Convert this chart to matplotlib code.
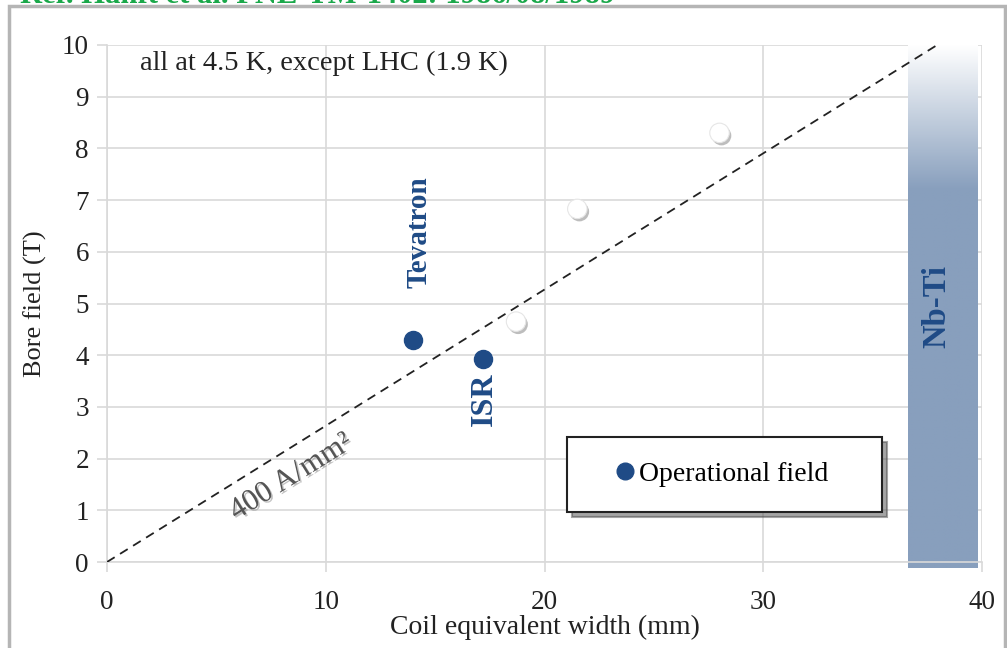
import numpy as np
import matplotlib
matplotlib.use("Agg")
from matplotlib import pyplot as plt
from matplotlib import patheffects as pe
from matplotlib.colors import LinearSegmentedColormap
from matplotlib.lines import Line2D
from matplotlib.patches import Rectangle

# operational field points (blue)
op_names = ["Tevatron", "ISR"]
op_width = [14.0, 17.2]
op_field = [4.3, 3.92]

# other magnets (white markers)
other_width = [18.7, 21.5, 28.0]
other_field = [4.65, 6.83, 8.3]

# 400 A/mm2 load line
load_width = [0, 40]
load_slope = 0.2635

# Nb-Ti band
nbti_x = [36.6, 39.8]
nbti_y = [-0.12, 10]
nbti_solid_below = 7.2

blue = "#1f4b86"
band_col = "#889fbd"
grid_col = "#d9d9d9"
txt_col = "#222222"

plt.rcParams['font.family'] = ['Liberation Serif', 'DejaVu Serif']

fig = plt.figure(figsize=(10.07, 6.48), dpi=100)
ax = fig.add_axes([107/1007, 1-562/648, (982-107)/1007, (562-45)/648])

# gradient band
ys = np.linspace(nbti_y[0], nbti_y[1], 300)
frac = np.clip((nbti_y[1] - ys) / (nbti_y[1] - nbti_solid_below), 0, 1)
cmap = LinearSegmentedColormap.from_list("nbti", ["#ffffff", band_col])
ax.imshow(frac[::-1, None], cmap=cmap, vmin=0, vmax=1, aspect="auto",
          extent=[nbti_x[0], nbti_x[1], nbti_y[0], nbti_y[1]], zorder=2,
          interpolation="bilinear", clip_on=False)

# load line
lx = np.array(load_width)
ax.plot(lx, lx * load_slope, ls=(0, (5, 3.5)), color="#222222", lw=1.3, zorder=3)

# points
shadow = [pe.SimplePatchShadow(offset=(1.5, -2), shadow_rgbFace="#888888", alpha=0.55), pe.Normal()]
ax.plot(other_width, other_field, ls="none", marker="o", ms=14, mfc="white",
        mec="#e6e6e6", mew=0.8, zorder=4, path_effects=shadow)
ax.plot(op_width, op_field, ls="none", marker="o", ms=13, color=blue, zorder=4)

# labels
ax.text(14.25, 6.38, "Tevatron", rotation=90, ha="center", va="center",
        color=blue, fontsize=21, fontweight="bold", zorder=5)
ax.text(17.25, 3.15, "ISR", rotation=90, ha="center", va="center",
        color=blue, fontsize=23, fontweight="bold", zorder=5)
ax.text(37.95, 4.95, "Nb-Ti", rotation=90, ha="center", va="center",
        color=blue, fontsize=23.5, fontweight="bold", zorder=5)
ax.text(8.4, 1.64, "400 A/mm²", rotation=32, ha="center", va="center",
        color="#555555", fontsize=22, zorder=5,
        path_effects=[pe.withSimplePatchShadow(offset=(1.2, -1.2), shadow_rgbFace="#999999", alpha=0.6)])
ax.text(1.5, 9.64, "all at 4.5 K, except LHC (1.9 K)", ha="left", va="center",
        color=txt_col, fontsize=20.5, zorder=5)

ax.set_xlim(0, 40)
ax.set_ylim(0, 10)
ax.set_xticks(range(0, 41, 10))
ax.set_yticks(range(0, 11))
ax.grid(True, color=grid_col, lw=1.2, zorder=0)
ax.set_axisbelow(True)
for s in ["top", "right"]:
    ax.spines[s].set_visible(False)
for s in ["left", "bottom"]:
    ax.spines[s].set_color(grid_col)
    ax.spines[s].set_linewidth(1.2)
ax.tick_params(axis="both", colors=grid_col, labelcolor=txt_col, labelsize=19.5,
               length=7, width=1.2)
ax.tick_params(axis="x", pad=13)
ax.tick_params(axis="y", pad=6)
ax.set_xlabel("Coil equivalent width (mm)", fontsize=20, color=txt_col, labelpad=0)
ax.set_ylabel("Bore field (T)", fontsize=19, color=txt_col, labelpad=11)

handle = Line2D([], [], ls="none", marker="o", ms=12, color=blue)
leg = ax.legend([handle], ["Operational field"], loc="center",
                bbox_to_anchor=(567/1007, 1-512/648, (882-567)/1007, (512-437)/648),
                bbox_transform=fig.transFigure, mode="expand", fontsize=20,
                borderpad=0.9, borderaxespad=0, handlelength=2.4, handletextpad=-0.7,
                frameon=True, fancybox=False, shadow={"ox": 3.5, "oy": -3.5, "alpha": 0.5},
                edgecolor="#222222", framealpha=1)
leg.get_frame().set_linewidth(1.5)
leg.set_zorder(6)

# outer frame and cut-off reference line
fig.patches.append(Rectangle((9/1007, -0.1), (1005-9)/1007, 1.1 - 6/648, transform=fig.transFigure,
                             fill=False, edgecolor="#b5b5b5", lw=2.5))
fig.text(20/1007, 1-3/648, "Ref. Hanft et al. FNL-TM-1402: 1986/08/1989", ha="left", va="baseline",
         color="#1aa84a", fontsize=22, fontweight="bold")

fig.savefig("out.png", dpi=100)
